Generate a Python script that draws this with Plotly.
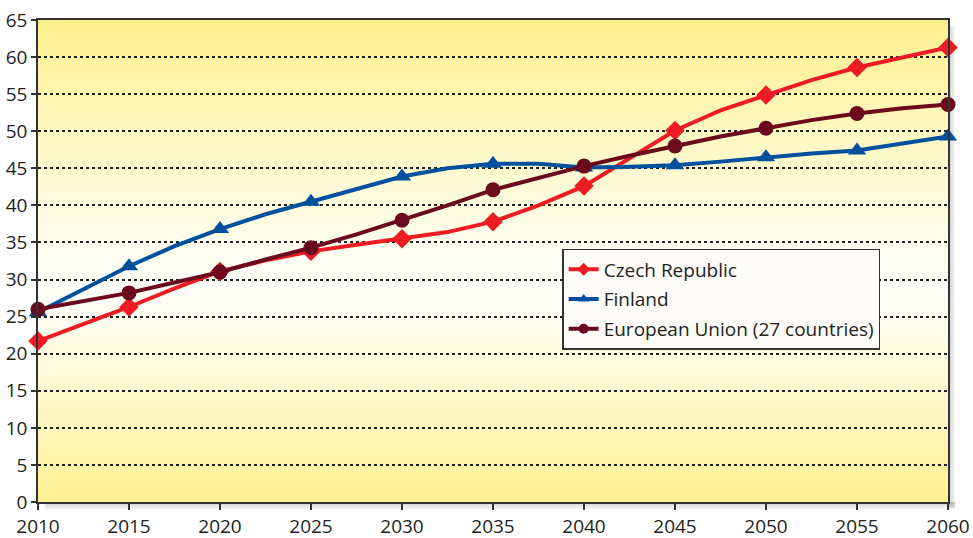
import plotly.graph_objects as go

years = [2010, 2012.5, 2015, 2017.5, 2020, 2022.5, 2025, 2027.5, 2030, 2032.5, 2035,
         2037.5, 2040, 2042.5, 2045, 2047.5, 2050, 2052.5, 2055, 2057.5, 2060]
czech = [21.7, 24.0, 26.3, 28.8, 31.1, 32.6, 33.8, 34.7, 35.5, 36.4, 37.8,
         40.0, 42.6, 46.3, 50.1, 52.8, 54.9, 56.9, 58.6, 60.0, 61.3]
finland = [25.6, 28.7, 31.8, 34.5, 36.8, 38.8, 40.5, 42.2, 43.9, 45.0, 45.6,
           45.6, 45.1, 45.2, 45.4, 45.9, 46.5, 47.0, 47.4, 48.3, 49.3]
eu27 = [26.0, 27.1, 28.2, 29.6, 31.0, 32.7, 34.3, 36.1, 38.0, 40.0, 42.1,
        43.7, 45.3, 46.7, 48.0, 49.3, 50.4, 51.5, 52.4, 53.1, 53.6]
series_names = ["Czech Republic", "Finland", "European Union (27 countries)"]
x_ticks = [2010, 2015, 2020, 2025, 2030, 2035, 2040, 2045, 2050, 2055, 2060]
y_ticks = list(range(0, 66, 5))

colors = ["#ED1C24", "#00509D", "#6A0A1C"]
symbols = ["diamond", "triangle-up", "circle"]
sizes = [15, 16, 15]

fig = go.Figure()
for name, vals, col, sym, sz in zip(series_names, [czech, finland, eu27], colors, symbols, sizes):
    fig.add_trace(go.Scatter(x=years, y=vals, mode="lines", line=dict(color=col, width=4),
                             showlegend=False, legendgroup=name, hoverinfo="skip"))
    mx = [x for x in years if x in x_ticks]
    my = [v for x, v in zip(years, vals) if x in x_ticks]
    fig.add_trace(go.Scatter(x=mx, y=my, mode="markers", marker=dict(color=col, symbol=sym, size=sz),
                             showlegend=False, legendgroup=name, cliponaxis=False))
    fig.add_trace(go.Scatter(x=[None], y=[None], mode="lines+markers", name=name,
                             line=dict(color=col, width=4),
                             marker=dict(color=col, symbol=sym, size=10), legendgroup=name))

# gradient background bands
shapes = []
n = 120
def lerp(a, b, t):
    return tuple(int(round(a[i] + (b[i] - a[i]) * t)) for i in range(3))
yellow_top = (253, 240, 140)
white = (255, 255, 250)
yellow_bot = (253, 240, 145)
mid = 0.44
for i in range(n):
    f0 = i / n
    f1 = (i + 1) / n
    fc = (f0 + f1) / 2
    if fc > mid:
        t = (fc - mid) / (1 - mid)
        c = lerp(white, yellow_top, t ** 1.2)
    else:
        t = (mid - fc) / mid
        c = lerp(white, yellow_bot, t ** 1.2)
    shapes.append(dict(type="rect", xref="x domain", yref="y domain", x0=0, x1=1, y0=f0, y1=f1 + 0.002,
                       fillcolor="rgb(%d,%d,%d)" % c, line=dict(width=0), layer="below"))
# drop shadow
for k in range(6):
    op = 0.28 - k * 0.045
    shapes.append(dict(type="rect", xref="x domain", yref="y domain",
                       x0=1 + (k * 1.2) / 910, x1=1 + ((k + 1) * 1.2) / 910, y0=-0.012, y1=0.985,
                       fillcolor="rgba(80,80,80,%.3f)" % op, line=dict(width=0), layer="below"))
    shapes.append(dict(type="rect", xref="x domain", yref="y domain",
                       x0=0.008, x1=1 + 7.2 / 910, y0=-(k + 1) * 1.2 / 482, y1=-k * 1.2 / 482,
                       fillcolor="rgba(80,80,80,%.3f)" % op, line=dict(width=0), layer="below"))

fig.update_layout(
    width=973, height=538,
    margin=dict(l=38, r=25, t=20, b=36),
    paper_bgcolor="white",
    plot_bgcolor="rgba(0,0,0,0)",
    font=dict(family="Open Sans, Noto Sans, sans-serif", color="#231F20", size=18),
    shapes=shapes,
    legend=dict(x=0.576, y=0.525, xanchor="left", yanchor="top",
                bgcolor="#FDFCF8", bordercolor="#333333", borderwidth=1.5,
                font=dict(size=19, color="#231F20"), tracegroupgap=2, itemwidth=30),
    showlegend=True,
)
fig.update_xaxes(range=[2010, 2060], tickvals=x_ticks, ticktext=[str(t) for t in x_ticks],
                 showgrid=False, zeroline=False, showline=True, linecolor="#333333", linewidth=1.5,
                 mirror=True, ticks="outside", ticklen=6, tickcolor="#333333", tickwidth=1.5,
                 tickfont=dict(size=19), automargin=False, ticklabeloverflow="allow")
fig.update_yaxes(range=[0, 65], tickvals=y_ticks, showgrid=True, gridcolor="#222222", griddash="dot",
                 gridwidth=1.5, zeroline=False, showline=True, linecolor="#333333", linewidth=1.5,
                 mirror=True, ticks="outside", ticklen=5, tickcolor="#333333", tickwidth=1.5,
                 tickfont=dict(size=19), automargin=False, ticklabeloverflow="allow")

# remove the default 8px page margin so the figure fills the window exactly
fig.write_html("out.html", post_script="document.body.style.margin='0';",
               config={"displayModeBar": False})
